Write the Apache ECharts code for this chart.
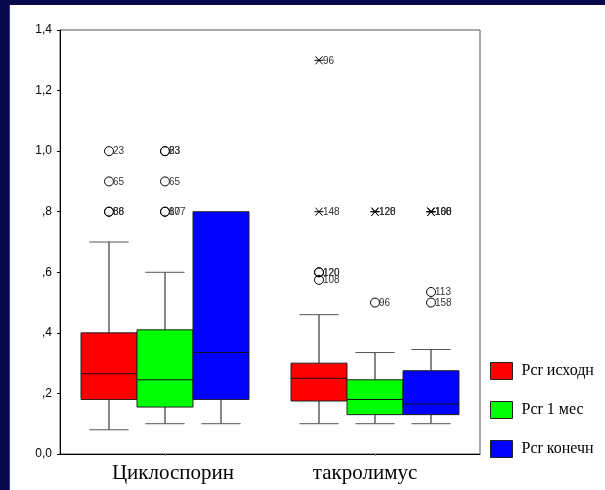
<!DOCTYPE html>
<html>
<head>
<meta charset="utf-8">
<script src="https://cdn.jsdelivr.net/npm/echarts@6/dist/echarts.min.js"></script>
<style>
  html, body { margin: 0; padding: 0; width: 605px; height: 490px; background: #07074a; overflow: hidden; }
  #panel { position: absolute; left: 9px; top: 5px; width: 596px; height: 485px; background: #fff; border-left: 1px solid #3a3a9a; }
  #chart { width: 596px; height: 485px; }
</style>
</head>
<body>
<div id="panel"><div id="chart"></div></div>
<script>
// Groups on the x axis and the three creatinine measurements
const categories = ['Циклоспорин', 'такролимус'];
const seriesNames = ['Pcr исходн', 'Pcr 1 мес', 'Pcr конечн'];
const seriesColors = ['#ff0000', '#00ff00', '#0000ff'];

// Box statistics per group: [min, Q1, median, Q3, max]
const pcrBase  = [[0.08, 0.18, 0.265, 0.40, 0.70], [0.10, 0.175, 0.25, 0.30, 0.46]];
const pcrMonth = [[0.10, 0.155, 0.245, 0.41, 0.60], [0.10, 0.13, 0.18, 0.245, 0.335]];
const pcrFinal = [[0.10, 0.18, 0.335, 0.80, 0.80], [0.10, 0.13, 0.165, 0.275, 0.345]];

// Outliers: [group index, value, case label, kind] ('o' = outlier, '*' = extreme)
const baseOutliers = [
  [0, 1.0, '23', 'o'], [0, 0.9, '65', 'o'], [0, 0.8, '86', 'o'], [0, 0.8, '88', 'o'],
  [1, 1.3, '96', '*'], [1, 0.8, '148', '*'], [1, 0.6, '120', 'o'], [1, 0.6, '120', 'o'], [1, 0.575, '108', 'o']
];
const monthOutliers = [
  [0, 1.0, '83', 'o'], [0, 1.0, '23', 'o'], [0, 0.9, '65', 'o'], [0, 0.8, '107', 'o'], [0, 0.8, '87', 'o'],
  [1, 0.8, '128', '*'], [1, 0.8, '120', '*'], [1, 0.5, '96', 'o']
];
const finalOutliers = [
  [1, 0.8, '100', '*'], [1, 0.8, '160', '*'], [1, 0.8, '168', '*'],
  [1, 0.535, '113', 'o'], [1, 0.5, '158', 'o']
];

// Y axis tick values and their printed form
const yTicks = [0, 0.2, 0.4, 0.6, 0.8, 1.0, 1.2, 1.4];
const yTickLabels = ['0,0', ',2', ',4', ',6', ',8', '1,0', '1,2', '1,4'];

const boxSets = [pcrBase, pcrMonth, pcrFinal];
const outlierSets = [baseOutliers, monthOutliers, finalOutliers];

function boxCenter(api, groupIndex, seriesIndex) {
  const c = api.coord([groupIndex, 0]);
  const band = api.size([1, 0])[0];
  const boxW = band * 0.8 / 3;
  return { x: c[0] + (seriesIndex - 1) * boxW, w: boxW };
}

function boxSeries(si) {
  const data = boxSets[si].map((b, gi) => [gi].concat(b));
  return {
    name: seriesNames[si],
    type: 'custom',
    itemStyle: { color: seriesColors[si] },
    encode: { x: 0, y: [1, 2, 3, 4, 5] },
    data: data,
    z: 2,
    renderItem: function (params, api) {
      const gi = api.value(0);
      const pos = boxCenter(api, gi, si);
      const y = v => api.coord([gi, v])[1];
      const yMin = y(api.value(1)), yQ1 = y(api.value(2)), yMed = y(api.value(3)),
            yQ3 = y(api.value(4)), yMax = y(api.value(5));
      const half = pos.w / 2, cap = pos.w * 0.35;
      const ln = (x1, y1, x2, y2, col) => ({
        type: 'line', shape: { x1, y1, x2, y2 },
        style: { stroke: col || '#111', lineWidth: 1 }
      });
      const children = [];
      if (yMax < yQ3 - 0.5) {
        children.push(ln(pos.x, yMax, pos.x, yQ3));
        children.push(ln(pos.x - cap, yMax, pos.x + cap, yMax, '#555'));
      }
      children.push(ln(pos.x, yQ1, pos.x, yMin));
      children.push(ln(pos.x - cap, yMin, pos.x + cap, yMin, '#555'));
      children.push({
        type: 'rect',
        shape: { x: pos.x - half, y: yQ3, width: pos.w, height: yQ1 - yQ3 },
        style: { fill: seriesColors[si], stroke: '#222', lineWidth: 1 }
      });
      children.push(ln(pos.x - half, yMed, pos.x + half, yMed));
      return { type: 'group', children: children };
    }
  };
}

function outlierSeries(si) {
  const list = outlierSets[si];
  return {
    name: 'outliers-' + si,
    type: 'custom',
    encode: { x: 0, y: 1 },
    data: list.map(o => [o[0], o[1]]),
    z: 3,
    silent: true,
    renderItem: function (params, api) {
      const o = list[params.dataIndex];
      const pos = boxCenter(api, o[0], si);
      const cy = api.coord([o[0], o[1]])[1];
      const cx = pos.x;
      const children = [];
      if (o[3] === 'o') {
        children.push({ type: 'circle', shape: { cx: cx, cy: cy, r: 4.5 },
          style: { fill: 'none', stroke: '#000', lineWidth: 1 } });
      } else {
        const s = { stroke: '#000', lineWidth: 1 };
        children.push({ type: 'line', shape: { x1: cx - 4.5, y1: cy, x2: cx + 4.5, y2: cy }, style: s });
        children.push({ type: 'line', shape: { x1: cx - 3.5, y1: cy - 4, x2: cx + 3.5, y2: cy + 4 }, style: s });
        children.push({ type: 'line', shape: { x1: cx - 3.5, y1: cy + 4, x2: cx + 3.5, y2: cy - 4 }, style: s });
      }
      children.push({
        type: 'text',
        style: {
          text: o[2], x: cx + 4, y: cy + 0.5,
          fill: '#333', fontSize: 10, fontFamily: 'Liberation Sans, Arial, sans-serif',
          align: 'left', verticalAlign: 'middle'
        }
      });
      return { type: 'group', children: children };
    }
  };
}

const chart = echarts.init(document.getElementById('chart'), null, { renderer: 'canvas' });
chart.setOption({
  animation: false,
  backgroundColor: '#ffffff',
  grid: {
    left: 50, top: 25, right: 126, bottom: 36,
    show: true, borderColor: '#555', borderWidth: 1, backgroundColor: 'transparent'
  },
  legend: {
    data: seriesNames,
    orient: 'vertical',
    left: 475, top: 352,
    icon: 'rect',
    itemWidth: 22, itemHeight: 17, itemGap: 21,
    itemStyle: { borderColor: '#222', borderWidth: 1 },
    textStyle: {
      color: '#000', fontSize: 16, fontFamily: 'Liberation Serif, Times New Roman, serif',
      padding: [0, 0, 0, 4]
    },
    selectedMode: false
  },
  xAxis: {
    type: 'category',
    data: categories,
    axisLine: { lineStyle: { color: '#000', width: 1 } },
    axisTick: { show: true, alignWithLabel: true, length: 2, lineStyle: { color: '#888' } },
    axisLabel: {
      interval: 0,
      hideOverlap: false,
      color: '#000', fontSize: 21, margin: 9,
      fontFamily: 'Liberation Serif, Times New Roman, serif',
      formatter: function (v, i) { return '{g' + i + '|' + v + '}'; },
      rich: {
        g0: { fontSize: 21, fontFamily: 'Liberation Serif, Times New Roman, serif', color: '#000', padding: [0, 0, 0, 16] },
        g1: { fontSize: 21, fontFamily: 'Liberation Serif, Times New Roman, serif', color: '#000', padding: [0, 20, 0, 0] }
      }
    },
    splitLine: { show: false }
  },
  yAxis: {
    type: 'value',
    min: 0, max: 1.4, interval: 0.2,
    axisLine: { show: true, lineStyle: { color: '#000', width: 1 } },
    axisTick: { show: true, length: 3, lineStyle: { color: '#000' } },
    axisLabel: {
      color: '#000', fontSize: 12, margin: 8,
      fontFamily: 'Liberation Sans, Arial, sans-serif',
      formatter: function (v) {
        const i = yTicks.findIndex(t => Math.abs(t - v) < 1e-6);
        return i >= 0 ? yTickLabels[i] : '';
      }
    },
    splitLine: { show: false }
  },
  series: [0, 1, 2].map(boxSeries).concat([0, 1, 2].map(outlierSeries))
});
</script>
</body>
</html>
